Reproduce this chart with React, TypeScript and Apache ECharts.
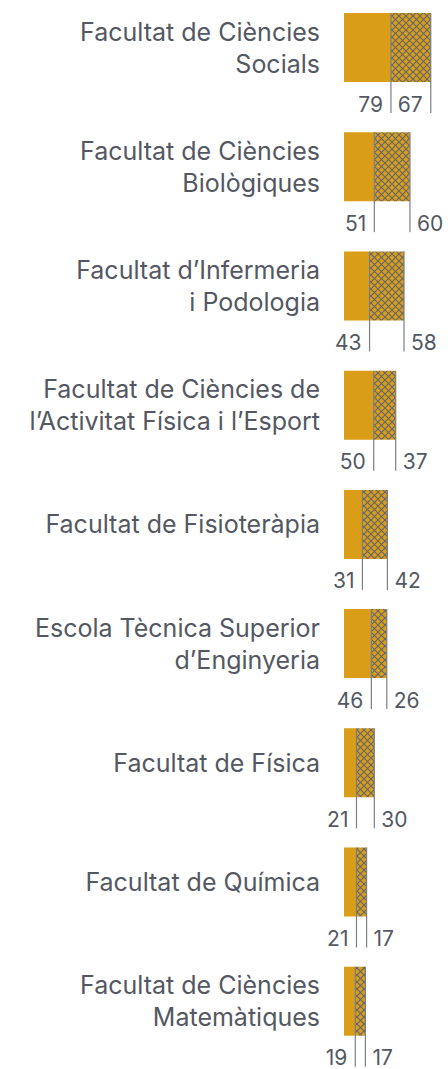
import React, { useEffect, useRef } from "react";
import * as echarts from "echarts";

const categories = [
  "Facultat de Ciències\nSocials",
  "Facultat de Ciències\nBiològiques",
  "Facultat d’Infermeria\ni Podologia",
  "Facultat de Ciències de\nl’Activitat Física i l’Esport",
  "Facultat de Fisioteràpia",
  "Escola Tècnica Superior\nd’Enginyeria",
  "Facultat de Física",
  "Facultat de Química",
  "Facultat de Ciències\nMatemàtiques",
];
const solidValues = [79, 51, 43, 50, 31, 46, 21, 21, 19];
const hatchedValues = [67, 60, 58, 37, 42, 26, 30, 17, 17];

const GOLD = "#DA9D17";
const HATCH = "#5F6572";
const TEXT = "#535862";
const LINE = "#7A7E86";
const FONT = "Inter, 'Noto Sans', sans-serif";

const hatchSvg =
  "<svg xmlns='http://www.w3.org/2000/svg' width='7' height='7'>" +
  "<rect width='7' height='7' fill='" + GOLD + "'/>" +
  "<path d='M-1,-1L8,8M8,-1L-1,8' stroke='" + HATCH + "' stroke-width='1.05'/></svg>";
const hatchUrl = "data:image/svg+xml;charset=utf-8," + encodeURIComponent(hatchSvg);

let measureCtx: CanvasRenderingContext2D | null = null;
function textWidth(t: string, font: string) {
  if (!measureCtx) measureCtx = document.createElement("canvas").getContext("2d");
  if (!measureCtx) return t.length * 12;
  measureCtx.font = font;
  return measureCtx.measureText(t).width;
}

export default function App() {
  const ref = useRef<HTMLDivElement>(null);
  useEffect(() => {
    if (!ref.current) return;
    const chart = echarts.init(ref.current, null, { renderer: "svg" });
    const BAR_H = 69;
    const valueFont = "21px " + FONT;
    chart.setOption({
      animation: false,
      grid: { left: 344, right: 0, top: 0, bottom: 8.2, containLabel: false },
      xAxis: { type: "value", min: 0, max: 175, show: false },
      yAxis: {
        type: "category",
        data: categories,
        inverse: true,
        axisLine: { show: false },
        axisTick: { show: false },
        splitLine: { show: false },
        axisLabel: {
          margin: 24,
          align: "right",
          color: TEXT,
          fontSize: 25,
          lineHeight: 32,
          fontFamily: FONT,
          interval: 0,
        },
      },
      series: [
        {
          type: "bar",
          stack: "t",
          data: solidValues,
          barWidth: BAR_H,
          itemStyle: { color: GOLD },
          silent: true,
        },
        {
          type: "bar",
          stack: "t",
          data: hatchedValues,
          barWidth: BAR_H,
          itemStyle: {
            color: { image: hatchUrl, repeat: "repeat", imageWidth: 7, imageHeight: 7 } as any,
          },
          silent: true,
        },
        {
          type: "custom",
          z: 10,
          silent: true,
          encode: { x: 0, y: 1 },
          data: solidValues.map((v, i) => [v, i, hatchedValues[i]]),
          renderItem: (params: any, api: any) => {
            const v1 = api.value(0);
            const idx = api.value(1);
            const v2 = api.value(2);
            const p1 = api.coord([v1, idx]);
            const p2 = api.coord([v1 + v2, idx]);
            const top = p1[1] - BAR_H / 2;
            const lineBottom = top + BAR_H + 31;
            const labelY = top + BAR_H + 22;
            const W = api.getWidth();
            const t2 = String(v2);
            const w2 = textWidth(t2, valueFont);
            const outside = p2[0] + 7 + w2 <= W;
            const lineStyle = { stroke: LINE, lineWidth: 1.2 };
            return {
              type: "group",
              children: [
                { type: "line", shape: { x1: p1[0], y1: top, x2: p1[0], y2: lineBottom }, style: lineStyle },
                { type: "line", shape: { x1: p2[0], y1: top, x2: p2[0], y2: lineBottom }, style: lineStyle },
                {
                  type: "text",
                  style: {
                    text: String(v1),
                    x: p1[0] - 8,
                    y: labelY,
                    align: "right",
                    verticalAlign: "middle",
                    fill: TEXT,
                    font: valueFont,
                  },
                },
                {
                  type: "text",
                  style: {
                    text: t2,
                    x: outside ? p2[0] + 7 : p2[0] - 8,
                    y: labelY,
                    align: outside ? "left" : "right",
                    verticalAlign: "middle",
                    fill: TEXT,
                    font: valueFont,
                  },
                },
              ],
            };
          },
        },
      ],
    });
    return () => chart.dispose();
  }, []);
  return (
    <div
      ref={ref}
      style={{ position: "fixed", left: 0, top: -12, width: 448, height: 1081, background: "#fff" }}
    />
  );
}
